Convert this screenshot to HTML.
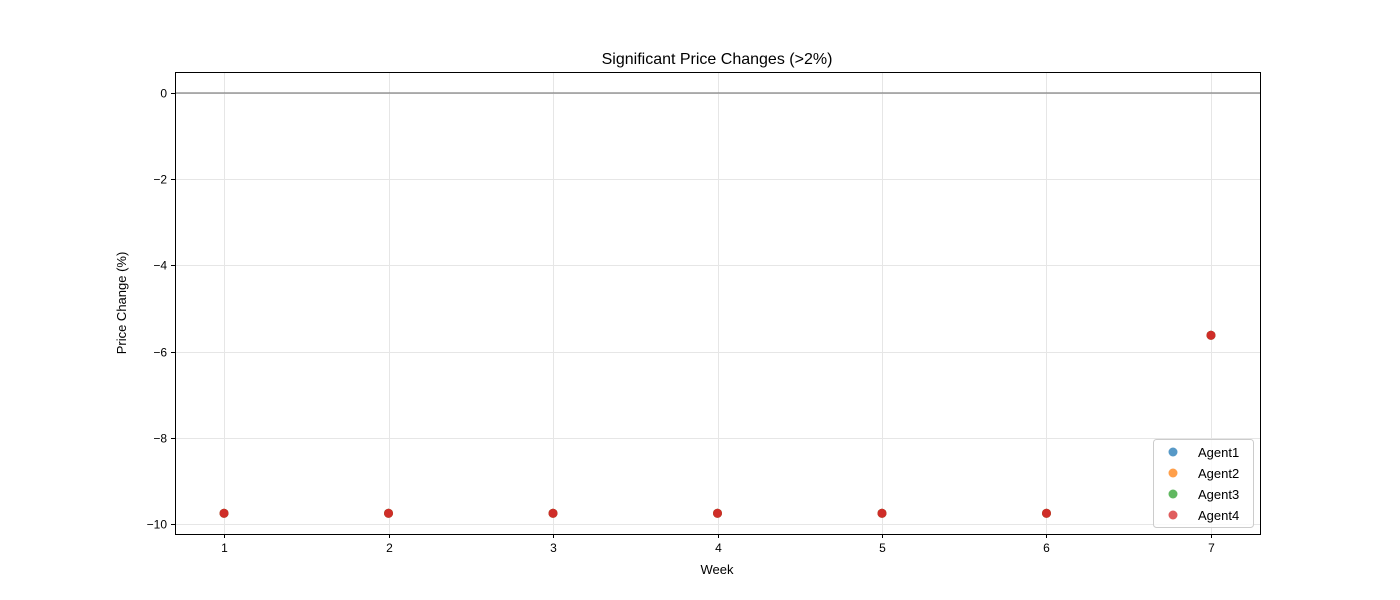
<!DOCTYPE html>
<html><head><meta charset="utf-8"><style>
body{margin:0;background:#fff;}
svg{display:block;font-family:"Liberation Sans","DejaVu Sans",sans-serif;}
</style></head><body>
<svg id="chart" width="1400" height="600">
<rect width="1400" height="600" fill="#fff"/>
<text x="717" y="64" text-anchor="middle" font-size="16">Significant Price Changes (&gt;2%)</text>
<g id="grid"></g>
<g id="axes"></g>
<g id="marks"></g>
<rect x="175.5" y="72.5" width="1085" height="462" fill="none" stroke="#000" stroke-width="1"/>
<text x="717" y="574" text-anchor="middle" font-size="13">Week</text>
<text transform="translate(126,303) rotate(-90)" text-anchor="middle" font-size="13">Price Change (%)</text>
<g id="legend"></g>
</svg>
<script>
const weeks=[1,2,3,4,5,6,7];
const agents=["Agent1","Agent2","Agent3","Agent4"];
const agent1=[-9.75,-9.75,-9.75,-9.75,-9.75,-9.75,-5.62];
const agent2=[-9.75,-9.75,-9.75,-9.75,-9.75,-9.75,-5.62];
const agent3=[-9.75,-9.75,-9.75,-9.75,-9.75,-9.75,-5.62];
const agent4=[-9.75,-9.75,-9.75,-9.75,-9.75,-9.75,-5.62];
const xTicks=[1,2,3,4,5,6,7];
const yTicks=[0,-2,-4,-6,-8,-10];
const colors=["#1f77b4","#ff7f0e","#2ca02c","#d62728"];
const series=[agent1,agent2,agent3,agent4];
const NS="http://www.w3.org/2000/svg";
const L=175,R=1260,T=72,B=534,xmin=0.702,xmax=7.298,ymin=-10.23,ymax=0.487;
const sx=v=>L+(v-xmin)/(xmax-xmin)*(R-L);
const sy=v=>B-(v-ymin)/(ymax-ymin)*(B-T);
function mk(tag,attrs,parent){const e=document.createElementNS(NS,tag);for(const k in attrs)e.setAttribute(k,attrs[k]);document.getElementById(parent).appendChild(e);return e;}
xTicks.forEach(t=>{const x=Math.round(sx(t))+0.5;
 const g=mk("line",{x1:x,x2:x,y1:T,y2:B,stroke:"#e6e6e6","stroke-width":1},"grid");
 
 
 const tk=mk("line",{x1:x,x2:x,y1:B,y2:B+4,stroke:"#000"},"axes");
 
 
 const tx=mk("text",{x:x,y:B+18,"text-anchor":"middle","font-size":12},"axes");tx.textContent=t;
 
 
});
yTicks.forEach(t=>{const y=Math.round(sy(t))+0.5;
 const g=mk("line",{x1:L,x2:R,y1:y,y2:y,stroke:"#e6e6e6","stroke-width":1},"grid");
 
 
 const tk=mk("line",{x1:L-4,x2:L,y1:y,y2:y,stroke:"#000"},"axes");
 
 
 const tx=mk("text",{x:L-8,y:y+4,"text-anchor":"end","font-size":12},"axes");tx.textContent=(t<0?"\u2212"+(-t):t);
 
 
});
const zl=mk("line",{x1:L,x2:R,y1:sy(0),y2:sy(0),stroke:"#808080","stroke-width":1.5,opacity:0.8},"grid");


series.forEach((s,i)=>{s.forEach((v,j)=>{
 const c=mk("circle",{cx:sx(weeks[j]),cy:sy(v),r:4.5,fill:colors[i],"fill-opacity":(i===3?0.95:0.75)},"marks");
 
 
});});
const lb=mk("rect",{x:1153.5,y:439.5,width:100,height:88,rx:3,fill:"#fff","fill-opacity":0.8,stroke:"#ccc"},"legend");


agents.forEach((a,i)=>{const y=452+i*21;
 const c=mk("circle",{cx:1173,cy:y,r:4.5,fill:colors[i],"fill-opacity":0.75},"legend");
 
 
 const t=mk("text",{x:1198,y:y+5,"font-size":13},"legend");t.textContent=a;
 
 
});
</script>
</body></html>
